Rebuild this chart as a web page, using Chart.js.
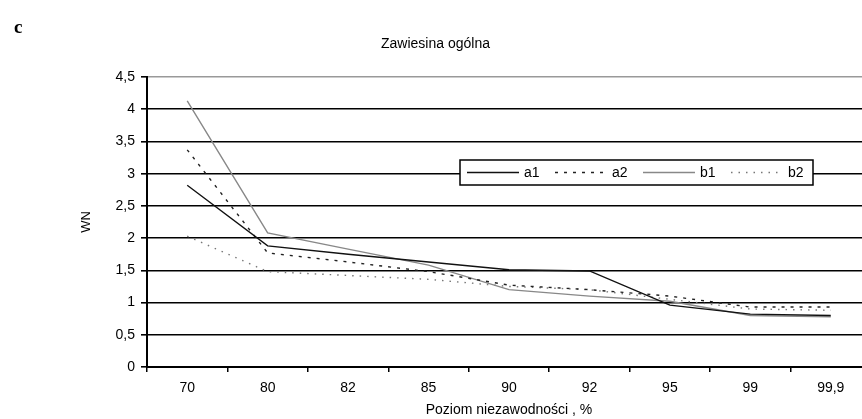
<!DOCTYPE html>
<html>
<head>
<meta charset="utf-8">
<script src="https://cdn.jsdelivr.net/npm/chart.js@4.4.1/dist/chart.umd.min.js"></script>
<style>
  body { margin: 0; background: #fff; overflow: hidden; }
  #wrap { position: relative; width: 862px; height: 419px; overflow: hidden; }
  #box { position: absolute; left: 0; top: 0; width: 900px; height: 419px; }
  #letter { position: absolute; left: 14px; top: 16px; font: bold 19px "Liberation Serif", serif; color: #000; }
</style>
</head>
<body>
<div id="wrap">
  <div id="box"><canvas id="chart"></canvas></div>
  <div id="letter">c</div>
</div>
<script>
// categories (reliability level, %)
const levels = ['70', '80', '82', '85', '90', '92', '95', '99', '99,9'];

// WN values
const a1 = [2.82, 1.88, 1.75, 1.63, 1.51, 1.49, 0.96, 0.82, 0.80];
const a2 = [3.37, 1.77, 1.63, 1.48, 1.27, 1.20, 1.10, 0.93, 0.93];
const b1 = [4.13, 2.08, 1.83, 1.58, 1.20, 1.10, 1.02, 0.80, 0.78];
const b2 = [2.03, 1.48, 1.42, 1.36, 1.25, 1.20, 1.05, 0.90, 0.88];

const yTicks = [0, 0.5, 1, 1.5, 2, 2.5, 3, 3.5, 4, 4.5];

const font = '"Liberation Sans", Arial, sans-serif';

// legend drawn as a framed box inside the plot area
const boxLegend = {
    id: 'boxLegend',
    afterDraw(chart) {
        const ctx = chart.ctx;
        const area = chart.chartArea;
        const left = area.left + 313;
        const width = 353;
        const top = area.top + 83;
        const height = 25;
        const mid = top + height / 2;
        ctx.save();
        ctx.fillStyle = '#fff';
        ctx.fillRect(left, top, width, height);
        ctx.strokeStyle = '#000';
        ctx.lineWidth = 1.5;
        ctx.strokeRect(left, top, width, height);
        ctx.font = '14px ' + font;
        ctx.textBaseline = 'middle';
        let x = left + 7;
        chart.data.datasets.forEach(ds => {
            ctx.beginPath();
            ctx.strokeStyle = ds.borderColor;
            ctx.lineWidth = ds.borderWidth;
            ctx.setLineDash(ds.borderDash || []);
            ctx.moveTo(x, mid);
            ctx.lineTo(x + 52, mid);
            ctx.stroke();
            ctx.setLineDash([]);
            ctx.fillStyle = '#000';
            ctx.fillText(ds.label, x + 57, mid + 1);
            x += 88;
        });
        ctx.restore();
    }
};

function line(label, data, color, dash, width) {
    return {
        label: label,
        data: data,
        borderColor: color,
        borderWidth: width,
        borderDash: dash,
        pointRadius: 0,
        tension: 0,
        fill: false
    };
}

new Chart(document.getElementById('chart'), {
    type: 'line',
    data: {
        labels: levels,
        datasets: [
            line('a1', a1, '#111', [], 1.4),
            line('a2', a2, '#222', [3, 6], 1.4),
            line('b1', b1, '#888', [], 1.4),
            line('b2', b2, '#777', [1.5, 6], 1.4)
        ]
    },
    options: {
        responsive: true,
        maintainAspectRatio: false,
        animation: false,
        layout: { padding: { left: 0, right: 29, top: 0, bottom: 0 } },
        plugins: {
            legend: { display: false },
            tooltip: { enabled: false },
            title: {
                display: true,
                text: 'Zawiesina ogólna',
                color: '#000',
                font: { family: font, size: 14, weight: 'normal' },
                padding: { top: 36, bottom: 24.2 }
            }
        },
        scales: {
            x: {
                type: 'category',
                offset: true,
                grid: { drawOnChartArea: false, drawTicks: true, tickLength: 5, color: '#000', lineWidth: 1.5, offset: true },
                border: { color: '#000', width: 2 },
                ticks: { color: '#000', font: { family: font, size: 14 }, padding: 8, maxRotation: 0 },
                title: {
                    display: true,
                    text: 'Poziom niezawodności , %',
                    color: '#000',
                    font: { family: font, size: 14 },
                    padding: { top: -5, bottom: 0 }
                },
                afterFit: s => { s.height = 52; }
            },
            y: {
                min: 0,
                max: 4.5,
                afterBuildTicks: s => { s.ticks = yTicks.map(v => ({ value: v })); },
                ticks: {
                    color: '#000',
                    font: { family: font, size: 14 },
                    padding: 6,
                    callback: v => String(v).replace('.', ',')
                },
                grid: {
                    color: c => (c.tick && c.tick.value === 4.5) ? '#999' : '#000',
                    lineWidth: 1.6,
                    tickLength: 6,
                    tickColor: '#000'
                },
                border: { color: '#000', width: 2 },
                title: {
                    display: true,
                    text: 'WN',
                    color: '#000',
                    font: { family: font, size: 13 },
                    padding: { top: 79, bottom: 0 }
                },
                afterFit: s => { s.width = 147; }
            }
        }
    },
    plugins: [boxLegend]
});
</script>
</body>
</html>
